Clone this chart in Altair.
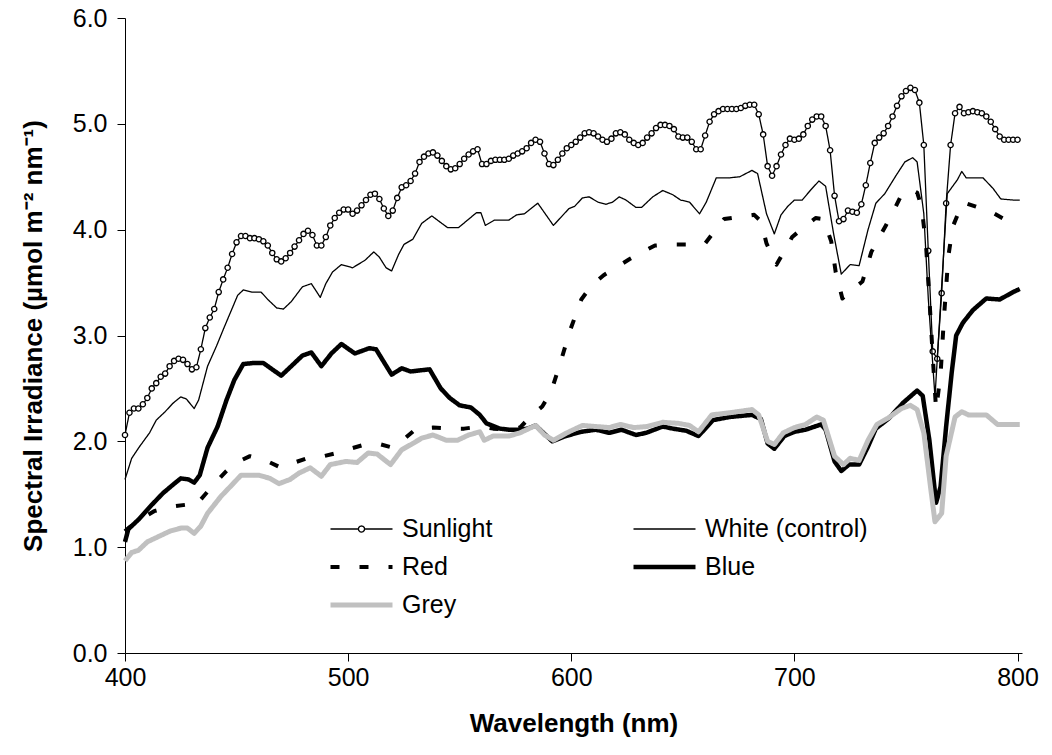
import altair as alt
import pandas as pd

# ---------------- data ----------------
series_names = ["Sunlight", "White (control)", "Red", "Blue", "Grey"]
x_ticks = [400, 500, 600, 700, 800]
y_ticks = [0, 1, 2, 3, 4, 5, 6]

sun_wl = [400, 402, 404, 406, 408, 410, 412, 414, 416, 418,
          420, 422, 424, 426, 428, 430, 432, 434, 436, 438,
          440, 442, 444, 446, 448, 450, 452, 454, 456, 458,
          460, 462, 464, 466, 468, 470, 472, 474, 476, 478,
          480, 482, 484, 486, 488, 490, 492, 494, 496, 498,
          500, 502, 504, 506, 508, 510, 512, 514, 516, 518,
          520, 522, 524, 526, 528, 530, 532, 534, 536, 538,
          540, 542, 544, 546, 548, 550, 552, 554, 556, 558,
          560, 562, 564, 566, 568, 570, 572, 574, 576, 578,
          580, 582, 584, 586, 588, 590, 592, 594, 596, 598,
          600, 602, 604, 606, 608, 610, 612, 614, 616, 618,
          620, 622, 624, 626, 628, 630, 632, 634, 636, 638,
          640, 642, 644, 646, 648, 650, 652, 654, 656, 658,
          660, 662, 664, 666, 668, 670, 672, 674, 676, 678,
          680, 682, 684, 686, 688, 690, 692, 694, 696, 698,
          700, 702, 704, 706, 708, 710, 712, 714, 716, 718,
          720, 722, 724, 726, 728, 730, 732, 734, 736, 738,
          740, 742, 744, 746, 748, 750, 752, 754, 756, 758,
          760, 762, 764, 766, 768, 770, 772, 774, 776, 778,
          780, 782, 784, 786, 788, 790, 792, 794, 796, 798,
          800]
sun_val = [2.06, 2.27, 2.31, 2.31, 2.35, 2.41, 2.50, 2.55, 2.61, 2.64,
           2.71, 2.76, 2.78, 2.77, 2.73, 2.68, 2.70, 2.87, 3.07, 3.17,
           3.25, 3.41, 3.53, 3.64, 3.77, 3.88, 3.94, 3.94, 3.92, 3.92,
           3.91, 3.89, 3.85, 3.78, 3.72, 3.70, 3.73, 3.78, 3.84, 3.90,
           3.96, 3.99, 3.95, 3.85, 3.85, 3.93, 4.04, 4.11, 4.16, 4.19,
           4.19, 4.15, 4.18, 4.23, 4.28, 4.33, 4.34, 4.29, 4.20, 4.13,
           4.18, 4.30, 4.40, 4.42, 4.46, 4.53, 4.64, 4.69, 4.72, 4.73,
           4.70, 4.65, 4.60, 4.57, 4.58, 4.62, 4.67, 4.71, 4.74, 4.76,
           4.62, 4.62, 4.65, 4.66, 4.66, 4.66, 4.67, 4.70, 4.72, 4.74,
           4.77, 4.82, 4.85, 4.83, 4.72, 4.62, 4.61, 4.66, 4.72, 4.77,
           4.80, 4.83, 4.87, 4.91, 4.92, 4.91, 4.88, 4.85, 4.83, 4.86,
           4.91, 4.92, 4.90, 4.85, 4.82, 4.80, 4.82, 4.87, 4.91, 4.96,
           4.99, 4.99, 4.98, 4.95, 4.88, 4.87, 4.87, 4.83, 4.76, 4.76,
           4.89, 5.02, 5.09, 5.12, 5.14, 5.14, 5.14, 5.14, 5.15, 5.17,
           5.18, 5.18, 5.09, 4.90, 4.60, 4.51, 4.60, 4.71, 4.80, 4.86,
           4.85, 4.86, 4.90, 4.98, 5.04, 5.07, 5.07, 4.98, 4.75, 4.32,
           4.08, 4.10, 4.18, 4.17, 4.16, 4.24, 4.42, 4.63, 4.82, 4.87,
           4.91, 4.98, 5.07, 5.17, 5.26, 5.31, 5.34, 5.32, 5.20, 4.80,
           3.80, 2.85, 2.78, 3.40, 4.25, 4.80, 5.10, 5.16, 5.10, 5.11,
           5.12, 5.11, 5.10, 5.07, 5.02, 4.95, 4.88, 4.85, 4.85, 4.85,
           4.85]

white_wl = [400, 403, 406.5, 411, 414, 418, 421.5, 425, 427.5, 431,
            433, 437, 441, 444.5, 447.5, 450.5, 453, 457, 461, 464,
            468, 471, 474.5, 479.5, 483.5, 486, 487.5, 490, 493, 497,
            502, 507.5, 511.5, 514, 517, 519.5, 522.5, 525, 529, 533,
            537.5, 544.5, 549.5, 557.5, 559.5, 561.5, 565.5, 572, 575.5, 579,
            585, 589, 592, 595.5, 599, 601.5, 605, 608, 612, 615.5,
            618.5, 621.5, 624.5, 629, 631.5, 636.5, 641, 645.5, 649, 653,
            657.5, 660.5, 665, 671, 675.5, 681, 683.5, 687.5, 691, 694,
            697, 700, 703.5, 707.5, 711, 714, 717.5, 721, 725, 729,
            733, 736.5, 740.5, 745.5, 749.5, 753, 755, 758, 760, 763,
            768.5, 773, 775, 777, 784.5, 789, 792.5, 798, 801]
white_val = [1.64, 1.84, 1.95, 2.08, 2.20, 2.28, 2.36, 2.42, 2.40, 2.31,
             2.39, 2.71, 2.90, 3.08, 3.23, 3.38, 3.43, 3.41, 3.41, 3.34,
             3.26, 3.25, 3.32, 3.46, 3.49, 3.41, 3.36, 3.49, 3.60, 3.67,
             3.64, 3.71, 3.79, 3.74, 3.64, 3.61, 3.76, 3.86, 3.91, 4.06,
             4.13, 4.02, 4.02, 4.16, 4.16, 4.04, 4.09, 4.09, 4.14, 4.15,
             4.25, 4.13, 4.04, 4.12, 4.20, 4.22, 4.30, 4.31, 4.26, 4.24,
             4.26, 4.31, 4.28, 4.21, 4.21, 4.31, 4.37, 4.33, 4.28, 4.26,
             4.15, 4.26, 4.49, 4.49, 4.50, 4.56, 4.53, 4.15, 3.96, 4.14,
             4.22, 4.28, 4.28, 4.38, 4.46, 4.41, 3.97, 3.58, 3.67, 3.66,
             4.00, 4.25, 4.34, 4.51, 4.64, 4.68, 4.64, 4.15, 3.35, 2.42,
             4.34, 4.47, 4.55, 4.49, 4.49, 4.39, 4.29, 4.28, 4.28]

red_wl = [400, 401.5, 406, 413, 420, 427, 431, 436, 441, 445.5,
          450, 456, 463, 470, 476, 483, 489, 495, 501, 507.5,
          513, 520, 525, 530.5, 538, 545.5, 552, 559, 565, 571,
          577, 582.5, 587, 591, 595.5, 599.5, 604.5, 609, 614.5, 620,
          626, 632, 637.5, 644, 650, 655, 660, 664, 668.5, 675,
          682, 685, 687.5, 692, 695.5, 699, 704, 709.5, 713, 716.5,
          718.5, 721.5, 725, 730.5, 734.5, 741, 745, 748, 752, 755,
          757, 759, 760.5, 762, 763.5, 765.5, 767, 769, 771, 775.5,
          781, 788, 794, 798.5, 801]
red_val = [1.15, 1.18, 1.25, 1.34, 1.38, 1.40, 1.38, 1.50, 1.62, 1.72,
           1.80, 1.86, 1.82, 1.75, 1.80, 1.85, 1.86, 1.89, 1.93, 1.97,
           1.98, 1.94, 2.02, 2.12, 2.13, 2.12, 2.12, 2.14, 2.12, 2.11,
           2.13, 2.25, 2.33, 2.47, 2.77, 3.05, 3.34, 3.47, 3.57, 3.64,
           3.72, 3.79, 3.85, 3.86, 3.86, 3.86, 3.87, 3.98, 4.10, 4.12,
           4.14, 4.08, 3.87, 3.67, 3.80, 3.93, 4.02, 4.11, 4.10, 3.89,
           3.60, 3.35, 3.42, 3.51, 3.79, 4.04, 4.20, 4.33, 4.38, 4.35,
           4.22, 3.85, 3.35, 2.80, 2.30, 2.63, 3.16, 3.75, 4.03, 4.26,
           4.22, 4.17, 4.10, 4.05, 4.04]

blue_wl = [400, 401.5, 403, 406, 409, 412, 417, 421.5, 425, 428.5,
           431, 433.5, 437, 441.5, 445.5, 449, 453, 457.5, 462, 466,
           470, 475, 479.5, 483.5, 488, 492.5, 497, 503, 509.5, 512.5,
           519.5, 524, 528, 532, 536.5, 541.5, 545.5, 550, 555, 559,
           562, 568, 572, 577, 580.5, 584, 591.5, 597.5, 604.5, 611,
           617, 622.5, 629, 633.5, 641, 645.5, 651.5, 657, 663.5, 671,
           681, 685, 688, 691, 695.5, 700, 705, 712, 714, 718,
           721, 724.5, 729, 733, 736.5, 742.5, 748.5, 755, 757.5, 760.5,
           763.5, 765.5, 768, 770.5, 772.5, 775.5, 780, 786, 792, 798,
           801]
blue_val = [1.05, 1.17, 1.20, 1.26, 1.33, 1.40, 1.51, 1.59, 1.65, 1.64,
            1.61, 1.68, 1.94, 2.14, 2.39, 2.58, 2.73, 2.74, 2.74, 2.68,
            2.62, 2.72, 2.81, 2.84, 2.71, 2.83, 2.92, 2.83, 2.88, 2.87,
            2.63, 2.69, 2.66, 2.67, 2.68, 2.50, 2.41, 2.34, 2.32, 2.25,
            2.17, 2.12, 2.11, 2.11, 2.12, 2.15, 2.00, 2.05, 2.09, 2.11,
            2.08, 2.11, 2.06, 2.08, 2.14, 2.12, 2.10, 2.05, 2.20, 2.23,
            2.25, 2.21, 1.98, 1.93, 2.05, 2.09, 2.11, 2.16, 2.11, 1.81,
            1.72, 1.78, 1.78, 1.95, 2.12, 2.22, 2.36, 2.48, 2.43, 2.01,
            1.42, 1.57, 2.14, 2.65, 3.00, 3.12, 3.24, 3.35, 3.34, 3.41,
            3.44]

grey_wl = [400, 403, 406, 410, 415, 420, 425, 428, 431, 434,
           437, 443, 448, 452, 460, 465, 469, 474, 478, 483,
           488, 492, 499, 504, 509, 513, 519, 524, 529, 533,
           538, 544, 549, 554, 559, 561, 565, 572, 577, 580,
           584, 588, 592, 598, 605, 611, 617, 622, 628, 634,
           641, 648, 653, 657, 663, 671, 681, 684, 688, 691,
           695, 700, 705, 710, 713, 718, 722, 725, 729, 733,
           737, 742, 748, 752, 755, 758, 761, 763, 766, 768,
           772, 775, 778, 786, 791, 796, 801]
grey_val = [0.87, 0.95, 0.97, 1.05, 1.10, 1.15, 1.18, 1.18, 1.13, 1.20,
            1.32, 1.48, 1.59, 1.68, 1.68, 1.65, 1.60, 1.64, 1.70, 1.75,
            1.67, 1.78, 1.81, 1.80, 1.89, 1.88, 1.78, 1.92, 1.98, 2.03,
            2.06, 2.01, 2.01, 2.06, 2.09, 2.01, 2.05, 2.05, 2.08, 2.11,
            2.15, 2.06, 2.01, 2.08, 2.15, 2.14, 2.13, 2.16, 2.13, 2.14,
            2.18, 2.17, 2.15, 2.09, 2.25, 2.27, 2.30, 2.25, 2.00, 1.97,
            2.08, 2.13, 2.16, 2.23, 2.20, 1.86, 1.78, 1.84, 1.82, 2.01,
            2.16, 2.22, 2.31, 2.34, 2.30, 2.08, 1.57, 1.24, 1.32, 1.86,
            2.23, 2.28, 2.25, 2.25, 2.16, 2.16, 2.16]

# ---------------- tables ----------------
all_wl = [sun_wl, white_wl, red_wl, blue_wl, grey_wl]
all_val = [sun_val, white_val, red_val, blue_val, grey_val]
rows = []
for name, wls, vals in zip(series_names, all_wl, all_val):
    assert len(wls) == len(vals), name
    for w, v in zip(wls, vals):
        rows.append({"series": name, "wl": w, "val": v})
df = pd.DataFrame(rows)
sun_df = pd.DataFrame({"wl": sun_wl, "val": sun_val})

FONT = "Liberation Sans"
FS = 25

x_enc = alt.X("wl:Q",
              scale=alt.Scale(domain=[400, 802], nice=False, zero=False),
              axis=alt.Axis(values=x_ticks, format="d", title="Wavelength (nm)",
                            labelPadding=4, labelFlush=False,
                            titleY=70, titleBaseline="middle"))
y_enc = alt.Y("val:Q",
              scale=alt.Scale(domain=[0, 6], nice=False, zero=True),
              axis=alt.Axis(values=y_ticks, format=".1f",
                            title="Spectral Irradiance (µmol m⁻² nm⁻¹)",
                            labelPadding=10, labelFlush=False,
                            titleX=-92, titleBaseline="middle", titleAngle=-90))

# legend symbols: a 62 px stroke; Sunlight's has a small open circle (12-gon) in the middle
line_sym = "M-1,0L1,0"
sun_sym = ("M-1,0L-0.1,0"
           "M0.1,0L0.087,0.05L0.05,0.087L0,0.1L-0.05,0.087L-0.087,0.05"
           "L-0.1,0L-0.087,-0.05L-0.05,-0.087L0,-0.1L0.05,-0.087L0.087,-0.05L0.1,0"
           "L1,0")

legend_main = alt.Legend(orient="none", legendX=203, legendY=497, columns=2,
                         direction="horizontal", title=None, symbolSize=3844,
                         clipHeight=28, labelLimit=400,
                         labelFont=FONT, labelFontSize=FS, labelColor="black",
                         labelOffset=7, columnPadding=138, rowPadding=10)

color = alt.Color("series:N",
                  scale=alt.Scale(domain=series_names,
                                  range=["black", "black", "black", "black", "#c0c0c0"]),
                  legend=legend_main)
dash = alt.StrokeDash("series:N",
                      scale=alt.Scale(domain=series_names,
                                      range=[[1, 0], [1, 0], [9, 20], [1, 0], [1, 0]]),
                      legend=legend_main)
swidth = alt.StrokeWidth("series:N",
                         scale=alt.Scale(type="ordinal", domain=series_names,
                                         range=[1.3, 1.3, 4, 4.5, 5]),
                         legend=legend_main)
shape = alt.Shape("series:N",
                  scale=alt.Scale(domain=series_names,
                                  range=[sun_sym, line_sym, line_sym, line_sym, line_sym]),
                  legend=legend_main)

base = alt.Chart(df).mark_line(strokeJoin="round").encode(
    x=x_enc, y=y_enc, color=color, strokeDash=dash, strokeWidth=swidth)


def series_layer(name):
    return base.transform_filter(alt.datum.series == name)


markers = alt.Chart(sun_df).mark_point(
    shape="circle", filled=True, fill="white", stroke="black",
    strokeWidth=1.3, size=28, opacity=1
).encode(x=x_enc, y=y_enc)

# no marks drawn: this layer only lends its shape scale to the legend
legend_shapes = alt.Chart(df).transform_filter("false").mark_point(
    filled=False, opacity=1
).encode(x=x_enc, y=y_enc, color=color, strokeDash=dash,
         strokeWidth=swidth, shape=shape)

chart = alt.layer(
    series_layer("Sunlight"),
    markers,
    series_layer("White (control)"),
    series_layer("Red"),
    series_layer("Blue"),
    series_layer("Grey"),
    legend_shapes,
).properties(
    width=897, height=635,
    padding={"left": 125, "top": 18, "right": 30, "bottom": 102},
    autosize=alt.AutoSizeParams(type="none"),
).configure_axis(
    grid=False, labelFont=FONT, titleFont=FONT, labelFontSize=FS, titleFontSize=26,
    titleFontWeight="bold", labelColor="black", titleColor="black",
    domainColor="black", tickColor="black", tickSize=8, domainWidth=1, tickWidth=1
).configure_view(stroke=None)

chart.save("out.html", embed_options={"renderer": "svg", "actions": False})
